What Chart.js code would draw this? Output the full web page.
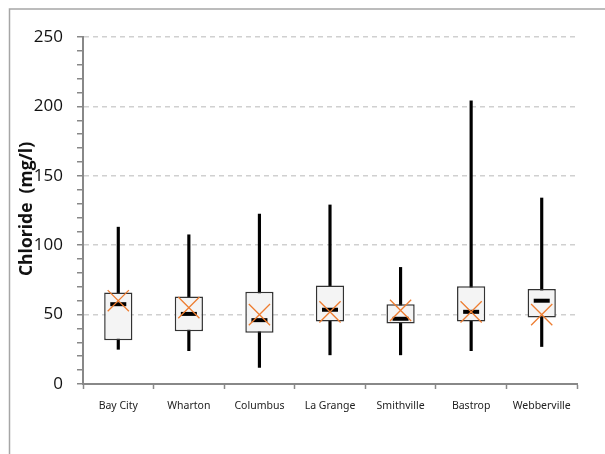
<!DOCTYPE html>
<html>
<head>
<meta charset="utf-8">
<script src="https://cdn.jsdelivr.net/npm/chart.js@4"></script>
<style>
  html, body { margin: 0; padding: 0; background: #fff; }
  #wrap { width: 605px; height: 454px; }
</style>
</head>
<body>
<div id="wrap"><canvas id="myChart" width="605" height="454"></canvas></div>
<script>
// dane (mg/l)
const categories = ['Bay City', 'Wharton', 'Columbus', 'La Grange', 'Smithville', 'Bastrop', 'Webberville'];
const minVals = [25, 24, 12, 21, 21, 24, 27];
const q1Vals = [31.5, 38, 37, 45, 43.5, 45, 48];
const medianVals = [57.5, 50.5, 46, 53.5, 47, 52, 60];
const q3Vals = [66, 63, 66.5, 71, 57.5, 70.5, 68.5];
const maxVals = [113, 107.5, 122.5, 129, 84, 204, 134];
const meanVals = [60, 55, 50, 52, 53, 52, 50];
const yTicks = [0, 50, 100, 150, 200, 250];

// ramka i tytul osi Y rysowane recznie (tytul nachodzi na etykiety)
const extras = {
    id: 'extras',
    beforeDraw(chart) {
        const ctx = chart.ctx;
        ctx.save();
        ctx.strokeStyle = '#a6a6a6';
        ctx.lineWidth = 1.5;
        ctx.beginPath();
        ctx.moveTo(9.5, 454);
        ctx.lineTo(9.5, 9);
        ctx.lineTo(605, 9);
        ctx.stroke();
        ctx.restore();
    },
    afterDraw(chart) {
        const ctx = chart.ctx;
        ctx.save();
        ctx.translate(27, 209);
        ctx.rotate(-Math.PI / 2);
        ctx.font = 'bold 17.5px "Open Sans"';
        ctx.fillStyle = '#111';
        ctx.textAlign = 'center';
        ctx.textBaseline = 'middle';
        ctx.fillText('Chloride  (mg/l)', 0, 0);
        ctx.restore();
    }
};

const ctx = document.getElementById('myChart').getContext('2d');
const myChart = new Chart(ctx, {
    data: {
        labels: categories,
        datasets: [
            {
                type: 'line',
                label: 'Mean',
                data: meanVals,
                showLine: false,
                pointStyle: 'crossRot',
                pointRadius: 15,
                pointBorderWidth: 1.3,
                borderColor: '#ED7D31',
                pointBorderColor: '#ED7D31',
                backgroundColor: '#ED7D31',
                order: 0
            },
            {
                type: 'line',
                label: 'Median',
                data: medianVals,
                showLine: false,
                pointStyle: 'line',
                pointRadius: 8,
                pointBorderWidth: 4,
                borderColor: '#000',
                pointBorderColor: '#000',
                order: 1
            },
            {
                type: 'bar',
                label: 'Box',
                data: q1Vals.map((q, i) => [q, q3Vals[i]]),
                backgroundColor: '#f4f4f4',
                borderColor: '#333',
                borderWidth: 1.5,
                borderSkipped: false,
                grouped: false,
                barPercentage: 0.4,
                categoryPercentage: 1,
                order: 2
            },
            {
                type: 'bar',
                label: 'Whisker',
                data: minVals.map((m, i) => [m, maxVals[i]]),
                backgroundColor: '#000',
                borderWidth: 0,
                grouped: false,
                barThickness: 2.5,
                order: 3
            }
        ]
    },
    options: {
        responsive: false,
        animation: false,
        layout: { padding: { top: 37, right: 28, left: 0, bottom: 0 } },
        plugins: {
            legend: { display: false },
            tooltip: { enabled: false }
        },
        scales: {
            x: {
                type: 'category',
                offset: true,
                afterFit: s => { s.height = 70; },
                grid: {
                    offset: true,
                    drawOnChartArea: false,
                    drawTicks: true,
                    tickLength: 5,
                    tickColor: '#888',
                    tickWidth: 1.5
                },
                border: { color: '#888', width: 2 },
                ticks: {
                    color: '#222',
                    padding: 11,
                    font: { family: '"Noto Sans"', size: 10.5 },
                    maxRotation: 0
                }
            },
            y: {
                min: 0,
                max: 250,
                afterFit: s => { s.width = 83; },
                afterBuildTicks: s => {
                    // drobne kreski co 10
                    const t = [];
                    for (let v = 0; v <= 250; v += 10) t.push({ value: v });
                    s.ticks = t;
                },
                grid: {
                    color: c => (yTicks.includes(c.tick.value) && c.tick.value > 0) ? '#d0d0d0' : 'rgba(0,0,0,0)',
                    lineWidth: 1.5,
                    tickColor: '#888',
                    tickWidth: 1.5,
                    tickLength: 6
                },
                border: { color: '#888', width: 2, dash: [5, 4] },
                ticks: {
                    autoSkip: false,
                    color: '#111',
                    padding: 14,
                    font: { family: '"Open Sans"', size: 17 },
                    callback: v => yTicks.includes(v) ? String(v) : ''
                }
            }
        }
    },
    plugins: [extras]
});
</script>
</body>
</html>
